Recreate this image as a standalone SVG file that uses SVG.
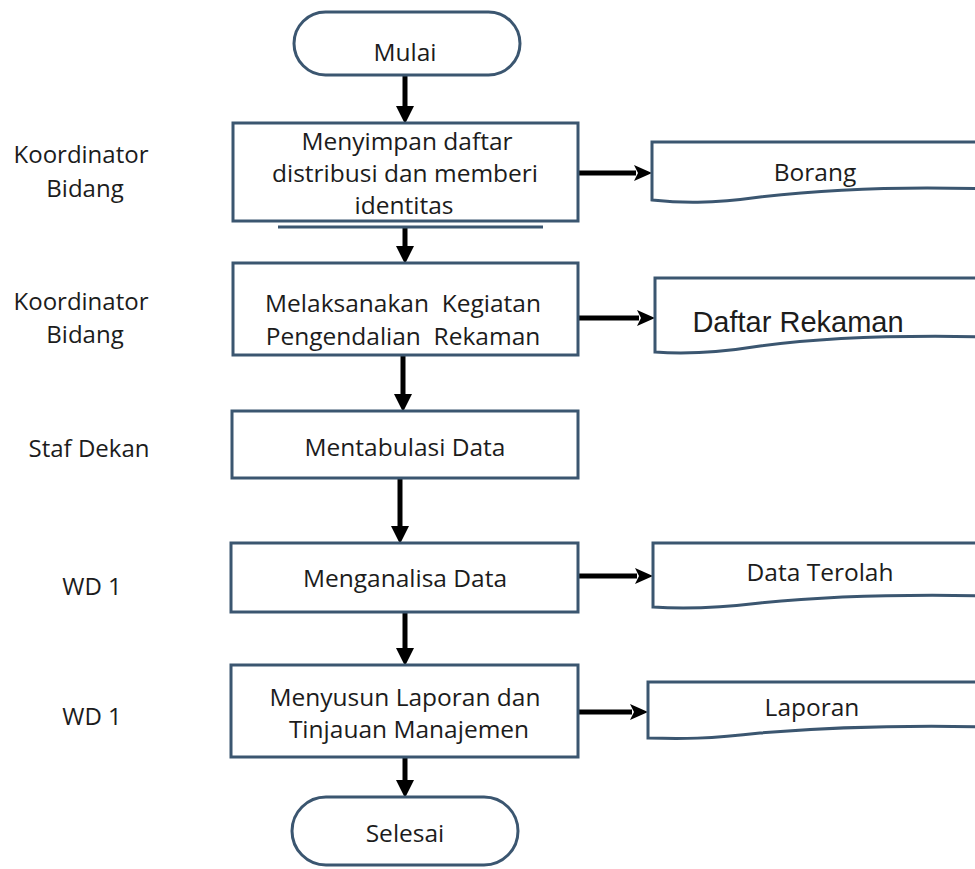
<svg xmlns="http://www.w3.org/2000/svg" width="975" height="869" viewBox="0 0 975 869">
  <style>
    .shape { fill: #ffffff; stroke: #3b5670; stroke-width: 3; }
    .t { font-family: "Open Sans", "Liberation Sans", sans-serif; font-size: 24.5px; fill: #1c1c1c; text-anchor: middle; white-space: pre; }
    .lbl { font-family: "Open Sans", "Liberation Sans", sans-serif; font-size: 24px; fill: #1c1c1c; text-anchor: middle; }
    .arial { font-family: "Liberation Sans", Arial, sans-serif; font-size: 29px; fill: #1c1c1c; text-anchor: middle; }
    .conn { stroke: #000000; stroke-width: 5; fill: none; }
  </style>
  <defs>
    <marker id="ahv" viewBox="0 0 18 18" refX="0" refY="9" markerWidth="18" markerHeight="18" markerUnits="userSpaceOnUse" orient="auto">
      <path d="M0,0 L18,9 L0,18 Z" fill="#000"/>
    </marker>
    <marker id="ahh" viewBox="0 0 18 18" refX="2" refY="9" markerWidth="18" markerHeight="18" markerUnits="userSpaceOnUse" orient="auto">
      <path d="M0,1 L18,9 L0,17 L4,9 Z" fill="#000"/>
    </marker>
  </defs>
  <rect x="0" y="0" width="975" height="869" fill="#ffffff"/>

  <g id="lanes">
    <text class="lbl" x="81" y="163">Koordinator</text>
    <text class="lbl" x="85" y="197">Bidang</text>
    <text class="lbl" x="81" y="310">Koordinator</text>
    <text class="lbl" x="85" y="343">Bidang</text>
    <text class="lbl" x="89" y="457">Staf Dekan</text>
    <text class="lbl" x="92" y="595">WD 1</text>
    <text class="lbl" x="92" y="725">WD 1</text>
  </g>

  <g id="connectors">
    <line class="conn" x1="405" y1="75" x2="405" y2="106" marker-end="url(#ahv)"/>
    <line class="conn" x1="405" y1="228" x2="405" y2="246" marker-end="url(#ahv)"/>
    <line class="conn" x1="403" y1="355" x2="403" y2="394" marker-end="url(#ahv)"/>
    <line class="conn" x1="400" y1="478" x2="400" y2="526" stroke-width="6" marker-end="url(#ahv)"/>
    <line class="conn" x1="405" y1="612" x2="405" y2="648" marker-end="url(#ahv)"/>
    <line class="conn" x1="405" y1="757" x2="405" y2="780" marker-end="url(#ahv)"/>
    <line class="conn" x1="578" y1="173" x2="636" y2="173" marker-end="url(#ahh)"/>
    <line class="conn" x1="578" y1="318" x2="639" y2="318" marker-end="url(#ahh)"/>
    <line class="conn" x1="578" y1="576" x2="637" y2="576" marker-end="url(#ahh)"/>
    <line class="conn" x1="578" y1="712" x2="632" y2="712" marker-end="url(#ahh)"/>
  </g>

  <g id="mulai">
    <rect class="shape" x="294" y="12" width="226" height="63" rx="31.5"/>
    <text class="t" x="405" y="61">Mulai</text>
  </g>

  <g id="step1">
    <rect class="shape" x="233" y="123" width="345" height="98"/>
    <line x1="278" y1="227" x2="543" y2="227" stroke="#3b5670" stroke-width="3"/>
    <text class="t" x="407" y="150" font-size="23px">Menyimpan daftar</text>
    <text class="t" x="405" y="182" font-size="23px">distribusi dan memberi</text>
    <text class="t" x="404" y="214" font-size="23px">identitas</text>
  </g>

  <g id="step2">
    <rect class="shape" x="233" y="263" width="345" height="92"/>
    <text class="t" x="403" y="312" font-size="24px">Melaksanakan  Kegiatan</text>
    <text class="t" x="403" y="345" font-size="24px">Pengendalian  Rekaman</text>
  </g>

  <g id="step3">
    <rect class="shape" x="232" y="411" width="346" height="67"/>
    <text class="t" x="405" y="456">Mentabulasi Data</text>
  </g>

  <g id="step4">
    <rect class="shape" x="231" y="543" width="347" height="69"/>
    <text class="t" x="405" y="587">Menganalisa Data</text>
  </g>

  <g id="step5">
    <rect class="shape" x="231" y="665" width="347" height="92"/>
    <text class="t" x="405" y="706">Menyusun Laporan dan</text>
    <text class="t" x="409" y="738">Tinjauan Manajemen</text>
  </g>

  <g id="selesai">
    <rect class="shape" x="292" y="797" width="226" height="68" rx="34"/>
    <text class="t" x="405" y="842">Selesai</text>
  </g>

  <g id="doc-borang">
    <path class="shape" d="M652,142 H990 V189 C900,186 820,190 760,197 C710,204 680,203 652,200 Z"/>
    <text class="t" x="815" y="181">Borang</text>
  </g>

  <g id="doc-daftar-rekaman">
    <path class="shape" d="M655,278 H990 V337 C900,335 820,338 760,346 C710,354 680,354 655,352 Z"/>
    <text class="arial" x="798" y="332">Daftar Rekaman</text>
  </g>

  <g id="doc-data-terolah">
    <path class="shape" d="M653,543 H990 V596 C900,594 820,597 760,603 C710,609 680,609 653,607 Z"/>
    <text class="t" x="820" y="581">Data Terolah</text>
  </g>

  <g id="doc-laporan">
    <path class="shape" d="M648,682 H990 V727 C900,725 820,728 760,733 C710,739 680,739 648,738 Z"/>
    <text class="t" x="812" y="716">Laporan</text>
  </g>
</svg>
